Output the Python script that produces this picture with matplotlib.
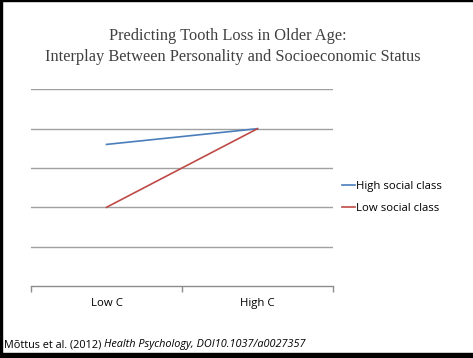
import matplotlib
matplotlib.use("Agg")
import matplotlib.pyplot as plt
from matplotlib.patches import Rectangle

categories = ["Low C", "High C"]
high_social = [3.6, 4.0]
low_social = [2.0, 4.0]
series_names = ["High social class", "Low social class"]
title_lines = ["Predicting Tooth Loss in Older Age:",
               "Interplay Between Personality and Socioeconomic Status"]
cite_plain = "Mõttus et al. (2012) "
cite_italic = "Health Psychology, DOI10.1037/a0027357"

W, H = 473, 358
fig = plt.figure(figsize=(W / 100, H / 100), dpi=100)
fig.patch.set_facecolor("white")

x0, x1 = 31, 333
ytop, ybot = 89.4, 285.9
ax = fig.add_axes([x0 / W, 1 - ybot / H, (x1 - x0) / W, (ybot - ytop) / H])
ax.set_xlim(0.5, 2.5)
ax.set_ylim(0, 5)
for s in ["top", "right", "left"]:
    ax.spines[s].set_visible(False)
ax.spines["bottom"].set_color("#8c8c8c")
ax.spines["bottom"].set_linewidth(1.0)
ax.set_yticks([1, 2, 3, 4, 5])
ax.yaxis.grid(True, color="#a0a0a0", linewidth=1.0)
ax.tick_params(axis="y", left=False, labelleft=False)
xs = [1, 2]
ax.set_xticks(xs)
ax.set_xticklabels(categories, fontsize=8.2, family="Open Sans")
ax.tick_params(axis="x", which="major", length=0, pad=9)
ax.set_xticks([0.5, 1.5, 2.5], minor=True)
ax.tick_params(axis="x", which="minor", length=4, color="#8c8c8c", width=1.0, direction="out")
ax.set_axisbelow(True)

blue = "#4a7ebb"
red = "#be4b48"
ax.plot(xs, high_social, color=blue, lw=1.2, label=series_names[0])
ax.plot(xs, low_social, color=red, lw=1.2, label=series_names[1])

leg = ax.legend(loc="center left", bbox_to_anchor=(342 / W, 1 - 197.5 / H),
                bbox_transform=fig.transFigure, frameon=False,
                handlelength=1.1, handletextpad=0.1, borderpad=0, borderaxespad=0,
                labelspacing=0.9, prop={"family": "Open Sans", "size": 8.2})

fig.text(228 / W, 1 - 36 / H, title_lines[0], ha="center", va="center",
         family="Liberation Serif", fontsize=11.8, color="#404040")
fig.text(233 / W, 1 - 57 / H, title_lines[1], ha="center", va="center",
         family="Liberation Serif", fontsize=11.8, color="#404040")

t1 = fig.text(4 / W, 1 - 345 / H, cite_plain, ha="left", va="center",
              family="Open Sans", fontsize=7.8, color="black")
fig.canvas.draw()
bb = t1.get_window_extent(renderer=fig.canvas.get_renderer())
fig.text(bb.x1 / W, 1 - 345 / H, cite_italic, ha="left", va="center",
         family="Open Sans", style="italic", fontsize=7.8, color="black")

fig.patches.append(Rectangle((0, 0), 2 / W, 1, transform=fig.transFigure, color="black", zorder=10))
fig.patches.append(Rectangle((0, 1 - 1 / H), 1, 1 / H, transform=fig.transFigure, color="black", zorder=10))
fig.patches.append(Rectangle((0, 0), 1, 5.5 / H, transform=fig.transFigure, color="black", zorder=10))

fig.savefig("out.png", dpi=100)
